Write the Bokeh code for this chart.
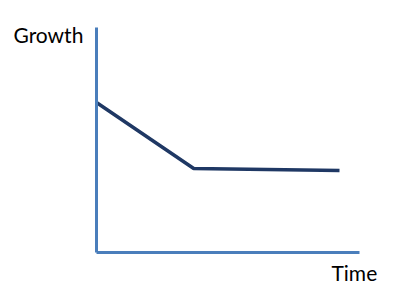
from bokeh.plotting import figure
from bokeh.models import Range1d, LinearAxis, Label
from bokeh.embed import file_html
from bokeh.resources import INLINE

# Data
time = [0, 2, 5]
growth = [7.5, 4.2, 4.1]
x_label = "Time"
y_label = "Growth"

p = figure(width=400, height=298, output_backend="svg", toolbar_location=None,
           x_axis_type=None, y_axis_type=None,
           x_range=Range1d(-1.975, 6.255), y_range=Range1d(-2.3, 12.6),
           min_border=0, min_border_left=0, min_border_right=0,
           min_border_top=0, min_border_bottom=0)
p.outline_line_color = None
p.background_fill_color = "white"
p.border_fill_color = "white"

axis_color = "#4a7ebb"
xaxis = LinearAxis(fixed_location=0, bounds=(0, 5.41))
yaxis = LinearAxis(fixed_location=0, bounds=(0, 11.25))
for ax in (xaxis, yaxis):
    ax.axis_line_color = axis_color
    ax.axis_line_width = 3
    ax.major_tick_line_color = None
    ax.minor_tick_line_color = None
    ax.major_label_text_font_size = "0px"
    ax.major_label_text_color = None
p.add_layout(xaxis, "below")
p.add_layout(yaxis, "left")

p.line(time, growth, line_color="#1f3864", line_width=3.5)

font = "Lato"
p.add_layout(Label(x=-1.708, y=10.9, text=y_label, text_font=font,
                   text_font_size="21px", text_color="#000000",
                   text_baseline="alphabetic"))
p.add_layout(Label(x=4.835, y=-1.0, text=x_label, text_font=font,
                   text_font_size="21px", text_color="#000000",
                   text_baseline="alphabetic"))

open("out.html", "w").write(file_html(p, INLINE))
